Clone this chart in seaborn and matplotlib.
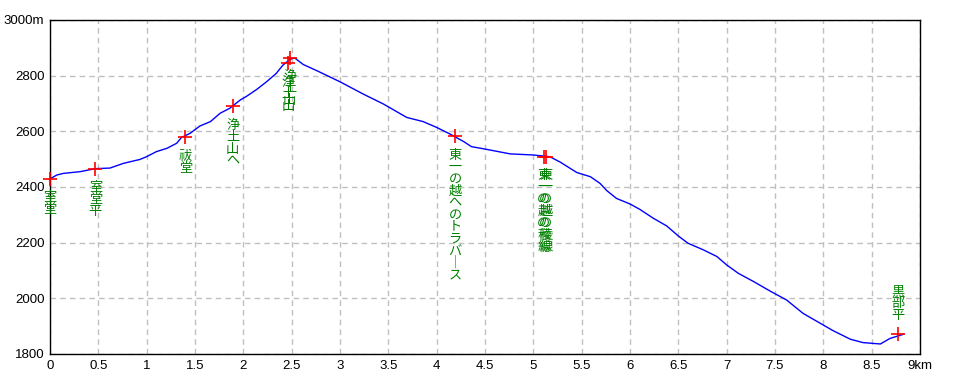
import matplotlib
matplotlib.use("Agg")
import matplotlib.pyplot as plt
import seaborn as sns
import pandas as pd
from matplotlib import font_manager

# Elevation profile (distance km, elevation m)
dist_km = [0, 0.07, 0.14, 0.31, 0.47, 0.62, 0.76, 0.93, 1.0, 1.1, 1.21, 1.31, 1.36, 1.45,
           1.55, 1.66, 1.76, 1.86, 1.97, 2.03, 2.14, 2.24, 2.34, 2.41, 2.48, 2.53, 2.62,
           2.76, 3.0, 3.24, 3.45, 3.69, 3.86, 4.0, 4.14, 4.28, 4.36, 4.52, 4.76, 5.0,
           5.17, 5.28, 5.45, 5.59, 5.69, 5.76, 5.86, 6.0, 6.1, 6.24, 6.38, 6.5, 6.6,
           6.76, 6.9, 7.0, 7.12, 7.28, 7.45, 7.62, 7.79, 7.97, 8.1, 8.28, 8.41, 8.59,
           8.69, 8.83]
elev_m = [2429, 2443, 2449, 2455, 2466, 2468, 2485, 2499, 2509, 2527, 2539, 2557, 2578,
          2593, 2619, 2635, 2665, 2683, 2713, 2725, 2751, 2778, 2808, 2838, 2858, 2864,
          2840, 2818, 2778, 2734, 2698, 2650, 2635, 2614, 2590, 2563, 2545, 2535, 2519,
          2515, 2509, 2489, 2452, 2437, 2413, 2387, 2359, 2339, 2320, 2288, 2260, 2224,
          2198, 2174, 2150, 2120, 2090, 2060, 2026, 1994, 1946, 1910, 1884, 1853, 1841,
          1836, 1856, 1871]

# Waypoints
wp_km = [0.0, 0.47, 1.40, 1.89, 2.46, 2.48, 4.19, 5.11, 5.13, 8.77]
wp_m = [2430, 2465, 2578, 2690, 2845, 2864, 2583, 2509, 2509, 1872]
wp_names = ["室堂", "室堂平", "祓堂", "浄土山へ", "浄土山", "浄土山",
            "東一の越へのトラバース", "東一の越の稜線", "東一の越の稜線", "黒部平"]
wp_above = [False, False, False, False, False, False, False, False, False, True]

x_ticks = [0, 0.5, 1, 1.5, 2, 2.5, 3, 3.5, 4, 4.5, 5, 5.5, 6, 6.5, 7, 7.5, 8, 8.5, 9]
x_ticklabels = ["0", "0.5", "1", "1.5", "2", "2.5", "3", "3.5", "4", "4.5", "5", "5.5",
                "6", "6.5", "7", "7.5", "8", "8.5", "9km"]
y_ticks = [1800, 2000, 2200, 2400, 2600, 2800, 3000]
y_ticklabels = ["1800", "2000", "2200", "2400", "2600", "2800", "3000m"]

sns.set_style("white")
plt.rcParams['font.family'] = ['Noto Sans CJK JP', 'DejaVu Sans']

installed = {f.name for f in font_manager.fontManager.ttflist}
tick_family = 'Liberation Sans Narrow' if 'Liberation Sans Narrow' in installed else 'Liberation Sans'

fig = plt.figure(figsize=(9.6, 3.84), dpi=100)
ax = fig.add_axes([50 / 960, 30 / 384, 870 / 960, 334 / 384])

prof = pd.DataFrame({"km": dist_km, "m": elev_m})
wp = pd.DataFrame({"km": wp_km, "m": wp_m})

sns.lineplot(data=prof, x="km", y="m", ax=ax, color="#0000ff", linewidth=1.0,
             estimator=None, sort=False, zorder=3)
sns.scatterplot(data=wp, x="km", y="m", ax=ax, marker="+", s=90, color="#ff0000",
                linewidth=1.2, zorder=4, clip_on=False)

ax.set_xlim(0, 9)
ax.set_ylim(1800, 3000)
ax.set_xticks(x_ticks)
ax.set_xticklabels(x_ticklabels)
ax.set_yticks(y_ticks)
ax.set_yticklabels(y_ticklabels)
ax.set_xlabel("")
ax.set_ylabel("")
ax.tick_params(length=0, labelsize=9.5, pad=4, colors="black")
for lab in ax.get_xticklabels() + ax.get_yticklabels():
    lab.set_family([tick_family, 'DejaVu Sans'])
ax.grid(True, color="#c0c0c0", linestyle=(0, (4, 3)), linewidth=1.0, zorder=0)
for s in ax.spines.values():
    s.set_color("black")
    s.set_linewidth(1.0)

# vertical labels, one character per cell
for x, y, name, above in zip(wp_km, wp_m, wp_names, wp_above):
    chars = list(name.replace("ー", "｜"))
    n = len(chars)
    for i, ch in enumerate(chars):
        if above:
            off = 18 + (n - 1 - i) * 12
        else:
            off = -(19 + i * 12)
        ax.annotate(ch, xy=(x, y), xytext=(0, off), textcoords="offset pixels",
                    ha="center", va="center", fontsize=9.5, color="#008000",
                    zorder=5, annotation_clip=False)

fig.savefig("out.png", dpi=100)
